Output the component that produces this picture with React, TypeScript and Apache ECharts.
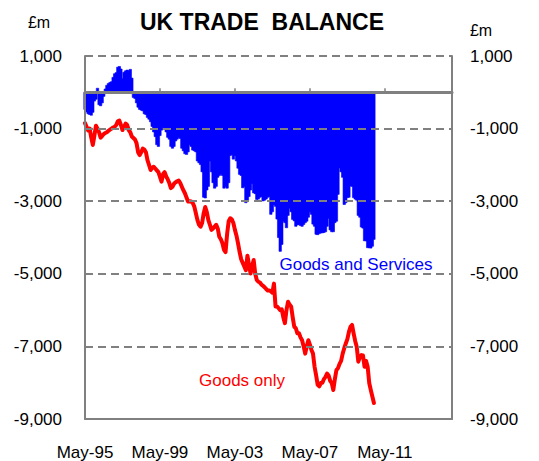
import React, { useEffect, useRef } from "react";
import * as echarts from "echarts";

const MONTHS = ["Jan", "Feb", "Mar", "Apr", "May", "Jun", "Jul", "Aug", "Sep", "Oct", "Nov", "Dec"];
const START_YEAR = 1995;
const START_MONTH = 4; // May
const MONTH_COUNT = 236; // May-95 .. Dec-14
const categories: string[] = Array.from({ length: MONTH_COUNT }, (_, i) => {
  const mi = START_MONTH + i;
  const y = START_YEAR + Math.floor(mi / 12);
  return MONTHS[mi % 12] + "-" + String(y % 100).padStart(2, "0");
});
const tickLabels = ["May-95", "May-99", "May-03", "May-07", "May-11"];

const yTicks = [1000, -1000, -3000, -5000, -7000, -9000];

const goodsAndServices = [
  -480, -550, -600, -620, -640, -560, -250, -200, 120, -350,
  -380, -300, -120, 100, 200, 250, 280, 300, 420, 520,
  550, 700, 720, 650, 380, 560, 600, 620, 600, 640,
  400, -150, -180, -300, -420, -480, -500, -520, -600, -620,
  -700, -750, -820, -950, -1100, -1230, -1450, -1500, -1200, -1050,
  -980, -1000, -1100, -1250, -1300, -1500, -1550, -1500, -1350, -1300,
  -1250, -1280, -1550, -1620, -1700, -1720, -1650, -1450, -1500, -1600,
  -1620, -1650, -1900, -1950, -2000, -2200, -2900, -2920, -2700, -2600,
  -1900, -2200, -2500, -2650, -2600, -2350, -2300, -2260, -2300, -2650,
  -2600, -2650, -2500, -1750, -1720, -1850, -1750, -1900, -2100, -2270,
  -2300, -2640, -2600, -3050, -3000, -2880, -2700, -2520, -2780, -2800,
  -2960, -2950, -2900, -2880, -3000, -2980, -2950, -2900, -2880, -3370,
  -3300, -3100, -3150, -3500, -4010, -4390, -4200, -3560, -3600, -3740,
  -3400, -3200, -3300, -3510, -3550, -3700, -3660, -3650, -3680, -3700,
  -3650, -3600, -3560, -3450, -3300, -3370, -3640, -3700, -3920, -3930,
  -3900, -3880, -3880, -3870, -3850, -3700, -3480, -3800, -3850, -3850,
  -3600, -3560, -2820, -2090, -2200, -2350, -3100, -3050, -2910, -2900,
  -2590, -2600, -2910, -2950, -2980, -3400, -3450, -3720, -3750, -4100,
  -4100, -4290, -4290, -4300, -4250, -4060,
];

const goodsOnly = [
  -850, -950, -1050, -1000, -1250, -1450, -1200, -920, -1000, -1100,
  -1250, -1200, -1150, -1120, -1100, -1060, -1030, -1000, -970, -950,
  -900, -800, -780, -900, -1040, -950, -860, -900, -1040, -1100,
  -1220, -1260, -1300, -1400, -1650, -1730, -1650, -1550, -1580, -1650,
  -1870, -2000, -2140, -2080, -2050, -2100, -2150, -2200, -2330, -2460,
  -2250, -2200, -2320, -2400, -2500, -2640, -2600, -2520, -2480, -2450,
  -2430, -2500, -2600, -2700, -2780, -2900, -3010, -3000, -3010, -3050,
  -3150, -3330, -3520, -3650, -3700, -3600, -3330, -3160, -3300, -3520,
  -3650, -3790, -3750, -3700, -3650, -3750, -3980, -4050, -4160, -4340,
  -4400, -3900, -3550, -3470, -3500, -3600, -3790, -3950, -4160, -4400,
  -4600, -4700, -4800, -4900, -4500, -4750, -4990, -4800, -4620, -5000,
  -5170, -5220, -5240, -5300, -5330, -5370, -5420, -5460, -5460, -5480,
  -5520, -5270, -5900, -5900, -5950, -6000, -5980, -6200, -6360, -6000,
  -5770, -5850, -5900, -6200, -6460, -6500, -6640, -6640, -6750, -6830,
  -7000, -7200, -7000, -6830, -6950, -7100, -7200, -7560, -7800, -8060,
  -8100, -8010, -8000, -7900, -7840, -7750, -7800, -7950, -8010, -8200,
  -7900, -7650, -7600, -7480, -7400, -7200, -7050, -6920, -6800, -6600,
  -6460, -6410, -6640, -6850, -7010, -7420, -7300, -7240, -7250, -7560,
  -7400, -7560, -8010, -8200, -8380, -8560,
];

const FONT = "'Liberation Sans', Arial, sans-serif";
const GRAY = "#808080";

export default function App() {
  const ref = useRef<HTMLDivElement>(null);

  useEffect(() => {
    if (!ref.current) return;
    const chart = echarts.init(ref.current, undefined, { renderer: "svg" });
    const showTick = (i: number) => tickLabels.indexOf(categories[i]) >= 0;
    const fmt = (v: number) => v.toLocaleString("en-US");
    const yMin = yTicks[yTicks.length - 1];
    const yMax = yTicks[0];

    chart.setOption({
      animation: false,
      backgroundColor: "#ffffff",
      grid: { left: 85, right: 87, top: 56, bottom: 42, containLabel: false },
      xAxis: [
        {
          type: "category",
          data: categories,
          boundaryGap: false,
          z: 10,
          axisLine: { show: true, onZero: true, lineStyle: { color: GRAY, width: 3 } },
          axisTick: { show: true, inside: true, length: 4, interval: showTick, lineStyle: { color: GRAY, width: 1.5 } },
          axisLabel: { show: false },
          splitLine: { show: false },
        },
        {
          type: "category",
          data: categories,
          boundaryGap: false,
          position: "bottom",
          z: 10,
          axisLine: { show: true, onZero: false, lineStyle: { color: GRAY, width: 2 } },
          axisTick: { show: false },
          axisLabel: {
            show: true,
            interval: showTick,
            margin: 25,
            color: "#000",
            fontSize: 17,
            fontFamily: FONT,
          },
          splitLine: { show: false },
        },
      ],
      yAxis: [
        {
          type: "value",
          min: yMin,
          max: yMax,
          interval: 2000,
          position: "left",
          z: 10,
          axisLine: { show: true, lineStyle: { color: GRAY, width: 2 } },
          axisTick: { show: false },
          axisLabel: { color: "#000", fontSize: 17, fontFamily: FONT, margin: 23, formatter: fmt },
          splitLine: { show: true, lineStyle: { color: GRAY, width: 2, type: [8, 5] } },
        },
        {
          type: "value",
          min: yMin,
          max: yMax,
          interval: 2000,
          position: "right",
          z: 10,
          axisLine: { show: true, lineStyle: { color: GRAY, width: 2 } },
          axisTick: { show: false },
          axisLabel: { color: "#000", fontSize: 17, fontFamily: FONT, margin: 18, formatter: fmt },
          splitLine: { show: false },
        },
      ],
      series: [
        {
          name: "Goods and Services",
          type: "bar",
          xAxisIndex: 0,
          yAxisIndex: 0,
          data: goodsAndServices,
          barWidth: 3,
          itemStyle: { color: "#0000ff", borderColor: "#0000ff", borderWidth: 0.6 },
          z: 2,
        },
        {
          name: "Goods only",
          type: "line",
          xAxisIndex: 0,
          yAxisIndex: 0,
          data: goodsOnly,
          showSymbol: false,
          symbol: "none",
          lineStyle: { color: "#ff0000", width: 4, join: "round", cap: "round" },
          z: 3,
        },
      ],
      graphic: [
        {
          type: "text",
          x: 262,
          y: 22,
          style: {
            text: "UK TRADE  BALANCE",
            fontFamily: FONT,
            fontSize: 23,
            fontWeight: "bold",
            fill: "#000",
            align: "center",
            verticalAlign: "middle",
          },
        },
        {
          type: "text",
          x: 39,
          y: 22,
          style: { text: "£m", fontFamily: FONT, fontSize: 16, fill: "#000", align: "center", verticalAlign: "middle" },
        },
        {
          type: "text",
          x: 481,
          y: 30,
          style: { text: "£m", fontFamily: FONT, fontSize: 16, fill: "#000", align: "center", verticalAlign: "middle" },
        },
        {
          type: "text",
          x: 356,
          y: 264,
          style: { text: "Goods and Services", fontFamily: FONT, fontSize: 17, fill: "#0000ff", align: "center", verticalAlign: "middle" },
        },
        {
          type: "text",
          x: 242,
          y: 380,
          style: { text: "Goods only", fontFamily: FONT, fontSize: 17, fill: "#ff0000", align: "center", verticalAlign: "middle" },
        },
      ],
    });
    return () => chart.dispose();
  }, []);

  return (
    <div
      ref={ref}
      style={{ position: "fixed", left: 0, top: 0, width: 539, height: 461, background: "#fff" }}
    />
  );
}
